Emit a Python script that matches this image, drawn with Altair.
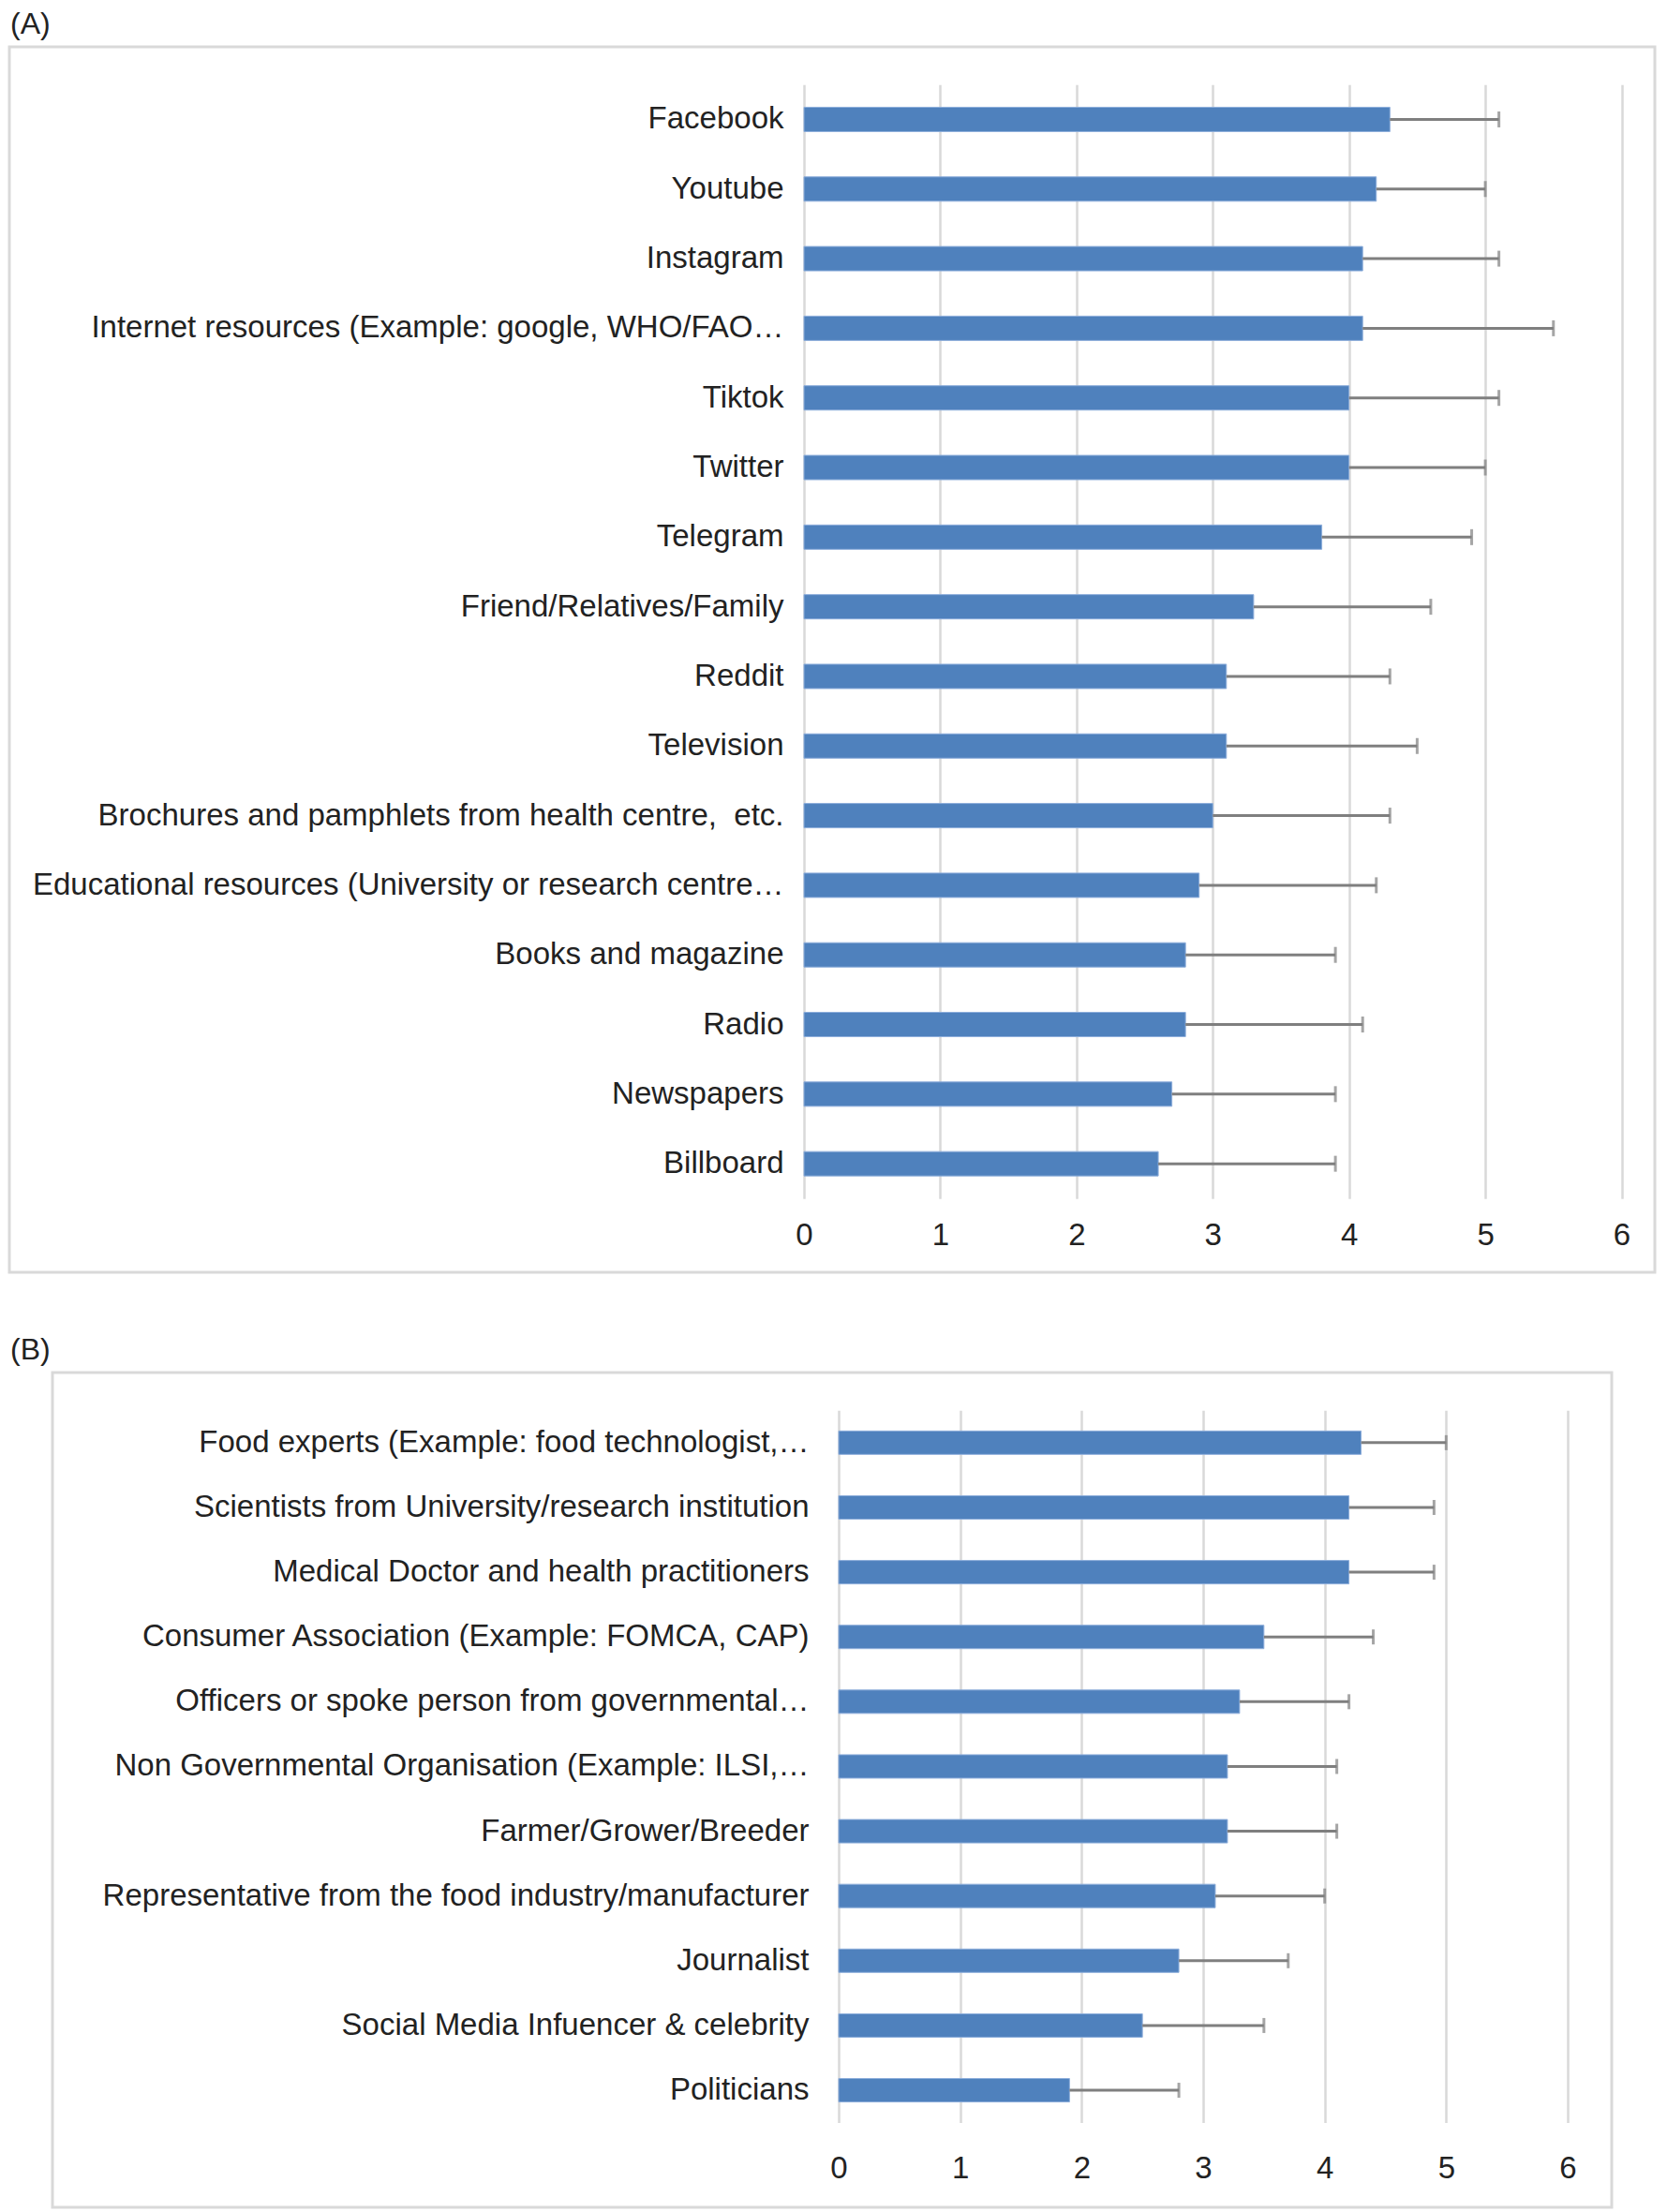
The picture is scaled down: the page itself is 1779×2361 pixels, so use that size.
import altair as alt
import pandas as pd

# ---------------- data ----------------
cats_a = [
    "Facebook", "Youtube", "Instagram",
    "Internet resources (Example: google, WHO/FAO…",
    "Tiktok", "Twitter", "Telegram", "Friend/Relatives/Family",
    "Reddit", "Television",
    "Brochures and pamphlets from health centre,\u00a0 etc.",
    "Educational resources (University or research centre…",
    "Books and magazine", "Radio", "Newspapers", "Billboard",
]
mean_a = [4.3, 4.2, 4.1, 4.1, 4.0, 4.0, 3.8, 3.3, 3.1, 3.1, 3.0, 2.9, 2.8, 2.8, 2.7, 2.6]
upper_a = [5.1, 5.0, 5.1, 5.5, 5.1, 5.0, 4.9, 4.6, 4.3, 4.5, 4.3, 4.2, 3.9, 4.1, 3.9, 3.9]

cats_b = [
    "Food experts (Example: food technologist,…",
    "Scientists from University/research institution",
    "Medical Doctor and health practitioners",
    "Consumer Association (Example: FOMCA, CAP)",
    "Officers or spoke person from governmental…",
    "Non Governmental Organisation (Example: ILSI,…",
    "Farmer/Grower/Breeder",
    "Representative from the food industry/manufacturer",
    "Journalist",
    "Social Media Infuencer & celebrity",
    "Politicians",
]
mean_b = [4.3, 4.2, 4.2, 3.5, 3.3, 3.2, 3.2, 3.1, 2.8, 2.5, 1.9]
upper_b = [5.0, 4.9, 4.9, 4.4, 4.2, 4.1, 4.1, 4.0, 3.7, 3.5, 2.8]

x_ticks = [0, 1, 2, 3, 4, 5, 6]

FONT = "Liberation Sans"
TXT = "#222222"
BAR = "#4f81bd"
ERR = "#7f7f7f"
GRID = "#d9d9d9"


def title_params(text, offset):
    return alt.TitleParams(text=text, anchor="start", fontSize=32, font=FONT,
                           fontWeight="normal", color=TXT, offset=offset, dx=1)


def panel(cats, means, uppers, W, H, xr, yr, ylabpad, xlabpad, bar, cap):
    df = pd.DataFrame({"cat": cats, "mean": means, "upper": uppers})
    yenc = alt.Y(
        "cat:N", sort=cats,
        scale=alt.Scale(range=yr, paddingInner=0, paddingOuter=0),
        axis=alt.Axis(title=None, offset=-xr[0], labelPadding=ylabpad,
                      ticks=False, domain=False, grid=False,
                      labelFontSize=33, labelLimit=1400, labelColor=TXT,
                      labelFont=FONT),
    )
    xscale = alt.Scale(domain=[0, 6], range=xr, nice=False, zero=True)
    # bottom axis: tick labels only
    xlab = alt.X(
        "mean:Q", scale=xscale,
        axis=alt.Axis(title=None, values=x_ticks, format="d", orient="bottom",
                      offset=-(H - yr[1]), labelPadding=xlabpad,
                      labelFlush=False, ticks=False, domain=False, grid=False,
                      labelFontSize=33, labelColor=TXT, labelFont=FONT),
    )
    # top axis: vertical gridlines only
    xgrid = alt.X(
        "mean:Q", scale=xscale,
        axis=alt.Axis(title=None, values=x_ticks, orient="top", labels=False,
                      ticks=False, domain=False, grid=True, minExtent=0,
                      maxExtent=0, gridColor=GRID, gridWidth=2.5),
    )
    base = alt.Chart(df)
    bars = base.mark_bar(size=bar, color=BAR, stroke="#8eaedb",
                         strokeWidth=1).encode(x=xlab, y=yenc)
    err = base.mark_rule(color=ERR, strokeWidth=3).encode(
        x=xgrid, x2="upper:Q", y=alt.Y("cat:N", sort=cats))
    caps = base.mark_tick(color=ERR, size=cap, thickness=3).encode(
        x=alt.X("upper:Q", axis=None), y=alt.Y("cat:N", sort=cats))
    return alt.layer(bars, err, caps).resolve_axis(x="independent").properties(
        width=W, height=H)


pa = panel(cats_a, mean_a, upper_a, 1756, 1308, [848, 1720.5], [40.3, 1229.3],
           22, 23, 26, 17).properties(title=title_params("(A)", 7))
pb = panel(cats_b, mean_b, upper_b, 1664, 891, [839, 1617], [40.3, 800.6],
           32, 33, 25, 16)

# empty narrow cell that only carries the "(B)" label, so the (B) box sits
# further right than the (A) box, as in the original figure
spacer = alt.Chart(pd.DataFrame({"v": [0]})).mark_point(opacity=0).encode(
    x=alt.X("v:Q", axis=None), y=alt.Y("v:Q", axis=None)
).properties(width=42, height=891, title=title_params("(B)", 7),
             view=alt.ViewBackground(strokeOpacity=0))

row_b = alt.hconcat(spacer, pb, spacing=0)

chart = alt.concat(pa, row_b, columns=1, spacing=65).properties(
    padding=0, background="white"
).configure_view(stroke=GRID, strokeWidth=3)

chart.save("out.html", embed_options={"renderer": "svg", "actions": False})
